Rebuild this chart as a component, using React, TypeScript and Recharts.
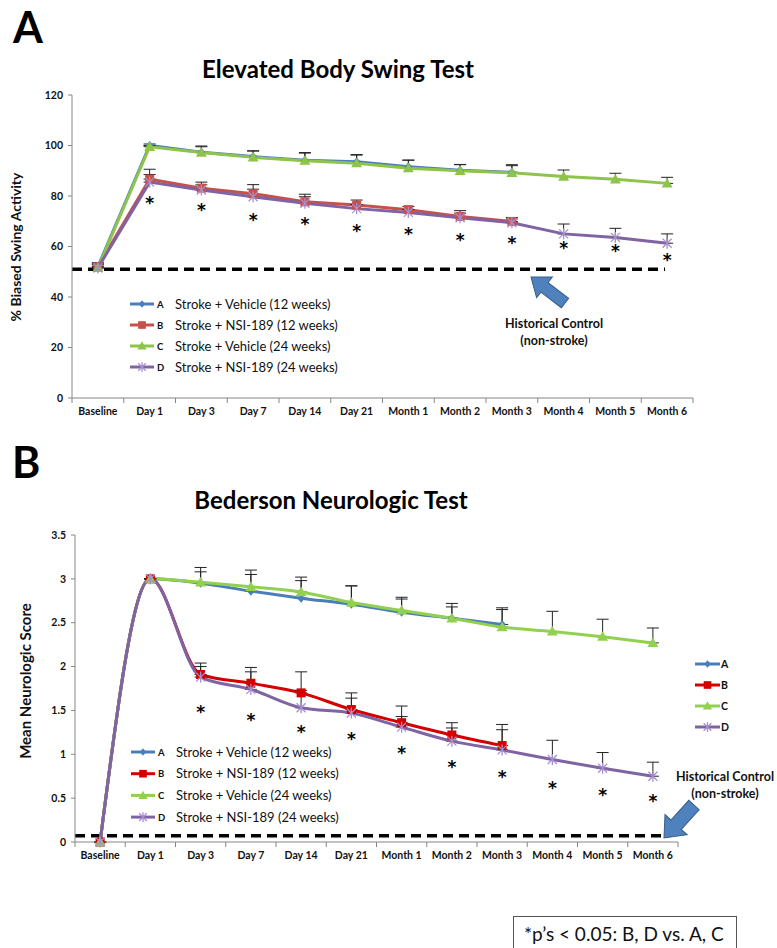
import React from "react";
import { ComposedChart, Line, XAxis, YAxis, ErrorBar, ReferenceLine } from "recharts";

const FONT = "Lato, 'Open Sans', sans-serif";

const categories = [
  "Baseline", "Day 1", "Day 3", "Day 7", "Day 14", "Day 21",
  "Month 1", "Month 2", "Month 3", "Month 4", "Month 5", "Month 6",
];

// Elevated body swing test (% biased swing activity)
const swingA = [52, 100, 97.3, 95.6, 94.2, 93.6, 91.6, 90.2, 89.4];
const swingB = [52, 86.7, 83.1, 80.9, 77.7, 76.4, 74.6, 71.9, 69.9];
const swingC = [51.5, 99.5, 97.2, 95.3, 94, 93, 91, 90, 89.2, 87.7, 86.6, 85];
const swingD = [51.5, 85.5, 82.4, 79.7, 77.1, 75, 73.5, 71.4, 69.4, 65, 63.6, 61.3];
const swingErrA = [1.5, 0.6, 2.2, 2.2, 2.8, 2.8, 2.6, 2.2, 2.6];
const swingErrB = [1.5, 3.9, 2.4, 3.6, 3.0, 2.0, 1.3, 2.3, 1.6];
const swingErrC = [1.5, 0.5, 2.6, 2.6, 3.2, 3.2, 3.2, 2.5, 3.2, 2.6, 2.4, 2.4];
const swingErrD = [1.2, 3.0, 2.0, 3.0, 2.6, 1.6, 1.2, 1.8, 1.5, 3.9, 3.6, 3.7];
const swingStars = [null, 78.4, 75.8, 71.6, 70, 67.5, 66.3, 63.9, 62.6, 60.6, 59.3, 56];
const swingControl = 51;
const swingTicks = [0, 20, 40, 60, 80, 100, 120];

// Bederson neurologic test (mean neurologic score)
const bedA = [0, 3, 2.95, 2.86, 2.78, 2.71, 2.62, 2.55, 2.48];
const bedB = [0, 3, 1.91, 1.81, 1.7, 1.51, 1.36, 1.22, 1.1];
const bedC = [0, 3, 2.96, 2.91, 2.85, 2.73, 2.64, 2.55, 2.45, 2.4, 2.34, 2.27];
const bedD = [0, 3, 1.88, 1.74, 1.53, 1.47, 1.31, 1.15, 1.05, 0.94, 0.84, 0.75];
const bedErrA = [0, 0, 0.13, 0.19, 0.2, 0.21, 0.15, 0.13, 0.19];
const bedErrB = [0, 0, 0.13, 0.18, 0.24, 0.19, 0.19, 0.14, 0.24];
const bedErrC = [0, 0, 0.17, 0.19, 0.17, 0.19, 0.15, 0.17, 0.2, 0.23, 0.2, 0.17];
const bedErrD = [0, 0, 0.12, 0.2, 0.2, 0.17, 0.12, 0.15, 0.23, 0.22, 0.18, 0.16];
const bedStars = [null, null, 1.52, 1.42, 1.29, 1.21, 1.05, 0.89, 0.77, 0.65, 0.57, 0.5];
const bedControl = 0.07;
const bedTicks = [0, 0.5, 1, 1.5, 2, 2.5, 3, 3.5];

const seriesNames = [
  { key: "A", label: "Stroke + Vehicle (12 weeks)", shape: "diamond" },
  { key: "B", label: "Stroke + NSI-189 (12 weeks)", shape: "square" },
  { key: "C", label: "Stroke + Vehicle (24 weeks)", shape: "triangle" },
  { key: "D", label: "Stroke + NSI-189 (24 weeks)", shape: "star" },
];

const colorsA: Record<string, string> = { A: "#4a7ebb", B: "#c8504b", C: "#8fc44c", D: "#7f63a2" };
const colorsB: Record<string, string> = { A: "#4a7ebb", B: "#d40000", C: "#92d050", D: "#7f63a2" };

function buildRows(vals: any[][], errs: number[][], stars: (number | null)[]) {
  return categories.map((cat, i) => {
    const row: any = { cat, x: i + 0.5, star: stars[i] };
    seriesNames.forEach((s, k) => {
      const v = vals[k][i];
      row[s.key] = v ?? null;
      if (v != null) row["e" + s.key] = [0, errs[k][i]];
    });
    return row;
  });
}

const swingRows = buildRows([swingA, swingB, swingC, swingD], [swingErrA, swingErrB, swingErrC, swingErrD], swingStars);
const bedRows = buildRows([bedA, bedB, bedC, bedD], [bedErrA, bedErrB, bedErrC, bedErrD], bedStars);

function Marker({ cx, cy, shape, color, s = 1 }: any) {
  if (shape === "diamond") {
    const r = 4.5 * s;
    return <polygon points={`${cx},${cy - r} ${cx + r * 0.85},${cy} ${cx},${cy + r} ${cx - r * 0.85},${cy}`} fill={color} />;
  }
  if (shape === "square") {
    const r = 4.5 * s;
    return <rect x={cx - r} y={cy - r} width={2 * r} height={2 * r} fill={color} />;
  }
  if (shape === "triangle") {
    const r = 5.5 * s;
    return <polygon points={`${cx},${cy - r} ${cx + r},${cy + r * 0.75} ${cx - r},${cy + r * 0.75}`} fill={color} />;
  }
  const r = 4.5 * s;
  return (
    <g stroke="#a58fcf" strokeWidth={1.3}>
      <line x1={cx - r} y1={cy - r} x2={cx + r} y2={cy + r} />
      <line x1={cx - r} y1={cy + r} x2={cx + r} y2={cy - r} />
      <line x1={cx} y1={cy - r - 1} x2={cx} y2={cy + r + 1} />
    </g>
  );
}

const makeDot = (shape: string, color: string) => (p: any) => {
  const { cx, cy, index, value } = p;
  if (cx == null || cy == null || value == null) return <g key={`d${index}`} />;
  return <g key={`d${index}`}><Marker cx={cx} cy={cy} shape={shape} color={color} /></g>;
};

const starDot = (p: any) => {
  const { cx, cy, index, value } = p;
  if (cx == null || cy == null || value == null) return <g key={`s${index}`} />;
  return (
    <text key={`s${index}`} x={cx} y={cy + 9} textAnchor="middle" fontSize={17} fontWeight={700} fontFamily="'DejaVu Sans', sans-serif" fill="#000">
      *
    </text>
  );
};

const makeXTick = (band: number) => (p: any) => {
  const { x, y, payload, index } = p;
  const last = index === categories.length - 1;
  return (
    <g>
      <line x1={x - band / 2} y1={y} x2={x - band / 2} y2={y + 5} stroke="#868686" />
      {last && <line x1={x + band / 2} y1={y} x2={x + band / 2} y2={y + 5} stroke="#868686" />}
      <text x={x} y={y + 10} dy="0.71em" textAnchor="middle" fontSize={10.5} fontWeight={700} fontFamily={FONT} fill="#111">
        {categories[Math.floor(payload.value)]}
      </text>
    </g>
  );
};

function Panel({ top, height, margin, plotWidth, rows, domain, ticks, control, controlEnd, colors, curve }: any) {
  const band = plotWidth / categories.length;
  return (
    <div style={{ position: "absolute", left: 0, top }}>
      <ComposedChart width={777} height={height} data={rows} margin={margin}>
        <XAxis
          dataKey="x"
          type="number"
          domain={[0, categories.length]}
          ticks={categories.map((_, i) => i + 0.5)}
          interval={0}
          tick={makeXTick(band)}
          tickLine={false}
          tickSize={0}
          tickMargin={0}
          height={30}
          axisLine={{ stroke: "#868686" }}
        />
        <YAxis
          type="number"
          domain={domain}
          ticks={ticks}
          interval={0}
          width={40}
          tickSize={4}
          tickMargin={5}
          tickLine={{ stroke: "#868686" }}
          axisLine={{ stroke: "#868686" }}
          tick={{ fontSize: 10.5, fontWeight: 700, fill: "#111", fontFamily: FONT }}
        />
        <ReferenceLine
          segment={[{ x: 0, y: control }, { x: controlEnd, y: control }]}
          stroke="#000"
          strokeWidth={3.5}
          strokeDasharray="10 6"
        />
        {seriesNames.map((s) => (
          <Line
            key={s.key}
            dataKey={s.key}
            type={curve}
            stroke={colors[s.key]}
            strokeWidth={3}
            dot={makeDot(s.shape, colors[s.key])}
            activeDot={false}
            isAnimationActive={false}
          >
            <ErrorBar dataKey={"e" + s.key} direction="y" width={6} stroke="#222" strokeWidth={1} />
          </Line>
        ))}
        <Line dataKey="star" stroke="none" dot={starDot} activeDot={false} isAnimationActive={false} />
      </ComposedChart>
    </div>
  );
}

function Arrow({ x1, y1, x2, y2, shaft, head, headLen }: any) {
  const L = Math.hypot(x2 - x1, y2 - y1);
  const ang = (Math.atan2(y2 - y1, x2 - x1) * 180) / Math.PI;
  const b = L - headLen;
  return (
    <g transform={`translate(${x1},${y1}) rotate(${ang})`}>
      <polygon
        points={`0,${-shaft} ${b},${-shaft} ${b},${-head} ${L},0 ${b},${head} ${b},${shaft} 0,${shaft}`}
        fill="#4f81bd"
        stroke="#385d8a"
        strokeWidth={1}
      />
    </g>
  );
}

function FullLegend({ x, y, step, colors }: any) {
  return (
    <g>
      {seriesNames.map((s, i) => {
        const cy = y + i * step;
        return (
          <g key={s.key}>
            <line x1={x} y1={cy} x2={x + 24} y2={cy} stroke={colors[s.key]} strokeWidth={3} />
            <Marker cx={x + 12} cy={cy} shape={s.shape} color={colors[s.key]} s={0.85} />
            <text x={x + 27} y={cy + 3.5} fontSize={9.5} fontWeight={700} fontFamily={FONT} fill="#111">{s.key}</text>
            <text x={x + 45} y={cy + 4.5} fontSize={13} fontFamily={FONT} fill="#111">{s.label}</text>
          </g>
        );
      })}
    </g>
  );
}

function ShortLegend({ x, y, step, colors }: any) {
  return (
    <g>
      {seriesNames.map((s, i) => {
        const cy = y + i * step;
        return (
          <g key={s.key}>
            <line x1={x} y1={cy} x2={x + 25} y2={cy} stroke={colors[s.key]} strokeWidth={3} />
            <Marker cx={x + 12.5} cy={cy} shape={s.shape} color={colors[s.key]} s={0.85} />
            <text x={x + 26} y={cy + 4} fontSize={10.5} fontWeight={700} fontFamily={FONT} fill="#111">{s.key}</text>
          </g>
        );
      })}
    </g>
  );
}

export default function App() {
  return (
    <div style={{ position: "absolute", left: 0, top: 0, width: 777, height: 948, overflow: "hidden", background: "#fff", fontFamily: FONT }}>
      <Panel
        top={0}
        height={430}
        margin={{ top: 95, right: 84, left: 32, bottom: 2 }}
        plotWidth={621}
        rows={swingRows}
        domain={[0, 120]}
        ticks={swingTicks}
        control={swingControl}
        controlEnd={11.46}
        colors={colorsA}
        curve="linear"
      />
      <Panel
        top={440}
        height={440}
        margin={{ top: 95, right: 99, left: 35, bottom: 8 }}
        plotWidth={603}
        rows={bedRows}
        domain={[0, 3.5]}
        ticks={bedTicks}
        control={bedControl}
        controlEnd={11.8}
        colors={colorsB}
        curve="monotone"
      />
      <svg width={777} height={948} style={{ position: "absolute", left: 0, top: 0, pointerEvents: "none" }}>
        <text x={13} y={43} fontSize={43} fontWeight={700} fontFamily={FONT} fill="#000">A</text>
        <text x={12} y={478} fontSize={43} fontWeight={700} fontFamily={FONT} fill="#000">B</text>
        <text x={338} y={78} textAnchor="middle" fontSize={24} fontWeight={700} fontFamily={FONT} fill="#000">Elevated Body Swing Test</text>
        <text x={331} y={509} textAnchor="middle" fontSize={24} fontWeight={700} fontFamily={FONT} fill="#000">Bederson Neurologic Test</text>
        <text transform="translate(21,247) rotate(-90)" textAnchor="middle" fontSize={14} fontWeight={700} fontFamily={FONT} fill="#111">% Biased Swing Activity</text>
        <text transform="translate(31,681) rotate(-90)" textAnchor="middle" fontSize={15} fontWeight={700} fontFamily={FONT} fill="#111">Mean Neurologic Score</text>

        <FullLegend x={130} y={304} step={21} colors={colorsA} />
        <FullLegend x={131} y={752} step={21.7} colors={colorsB} />
        <ShortLegend x={695} y={664} step={21} colors={colorsB} />

        <Arrow x1={565} y1={303} x2={531} y2={277} shaft={6} head={13} headLen={17} />
        <text x={554} y={328} textAnchor="middle" fontSize={12.5} fontWeight={700} fontFamily={FONT} fill="#111">Historical Control</text>
        <text x={554} y={345} textAnchor="middle" fontSize={12.5} fontWeight={700} fontFamily={FONT} fill="#111">(non-stroke)</text>

        <Arrow x1={694} y1={805} x2={664} y2={838} shaft={7} head={15} headLen={18} />
        <text x={725} y={781} textAnchor="middle" fontSize={12.5} fontWeight={700} fontFamily={FONT} fill="#111">Historical Control</text>
        <text x={725} y={798} textAnchor="middle" fontSize={12.5} fontWeight={700} fontFamily={FONT} fill="#111">(non-stroke)</text>
      </svg>
      <div
        style={{
          position: "absolute",
          left: 513,
          top: 916,
          width: 224,
          height: 40,
          border: "1px solid #555",
          boxSizing: "border-box",
          fontFamily: FONT,
          fontSize: 19,
          color: "#111",
          paddingLeft: 10,
          lineHeight: "34px",
        }}
      >
        *p’s &lt; 0.05: B, D vs. A, C
      </div>
    </div>
  );
}
